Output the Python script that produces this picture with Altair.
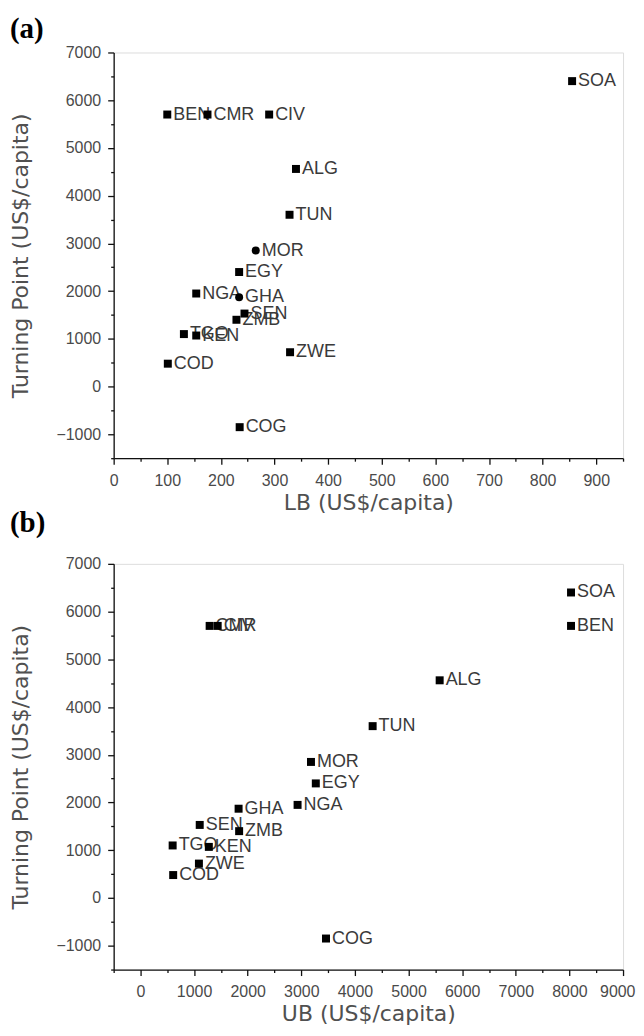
import altair as alt
import pandas as pd

countries = ["SOA", "BEN", "CMR", "CIV", "ALG", "TUN", "MOR", "EGY", "NGA",
             "GHA", "SEN", "ZMB", "TGO", "KEN", "COD", "ZWE", "COG"]
turning_point = [6400, 5700, 5700, 5700, 4560, 3600, 2850, 2400, 1950,
                 1870, 1530, 1400, 1100, 1070, 480, 720, -850]
lb = [855, 100, 175, 290, 340, 328, 265, 234, 154,
      234, 244, 229, 131, 154, 101, 329, 235]
ub = [8030, 8030, 1290, 1440, 5580, 4330, 3180, 3270, 2930,
      1830, 1105, 1840, 600, 1275, 610, 1090, 3460]
marker_a = ["square", "square", "square", "square", "square", "square", "circle", "square", "square",
            "circle", "square", "square", "square", "square", "square", "square", "square"]
marker_b = ["square"] * len(countries)

y_ticks = list(range(-1500, 7001, 500))
lb_ticks = list(range(0, 951, 50))
ub_ticks = list(range(-500, 9001, 500))

df = pd.DataFrame({"country": countries, "tp": turning_point, "lb": lb, "ub": ub,
                   "ma": marker_a, "mb": marker_b})

FONT = "Liberation Sans"
TITLE_FONT = "DejaVu Sans"


def make_axis(vals, major, title_pad, label_pad, flush=False):
    return alt.Axis(
        values=vals,
        format="d",
        labelExpr=f"datum.value % {major} === 0 ? datum.label : ''",
        tickSize={"condition": {"test": f"datum.value % {major} !== 0", "value": 3}, "value": 6},
        grid=False,
        domainColor="#111",
        tickColor="#111",
        domainWidth=1.3,
        tickWidth=1.3,
        labelFont=FONT,
        labelFontSize=16,
        labelColor="#4a4a4a",
        labelOverlap=False,
        labelFlush=1 if flush else False,
        labelFlushOffset=12 if flush else 0,
        labelPadding=label_pad,
        titleFont=TITLE_FONT,
        titleFontSize=22,
        titleFontWeight="normal",
        titleColor="#505050",
        titlePadding=title_pad,
    )


def panel(xfield, xdomain, xvals, xmajor, xtitle, shapefield, tag, flush, toff):
    x = alt.X(f"{xfield}:Q",
              scale=alt.Scale(domain=xdomain, nice=False, zero=False),
              axis=make_axis(xvals, xmajor, 4, 8, flush), title=xtitle)
    y = alt.Y("tp:Q",
              scale=alt.Scale(domain=[-1500, 7000], nice=False, zero=False),
              axis=make_axis(y_ticks, 1000, 24, 7), title="Turning Point (US$/capita)")
    base = alt.Chart(df)
    txt = base.mark_text(align="left", baseline="middle", dx=6, font=FONT,
                         fontSize=18, color="#3a3a3a").encode(x=x, y=y, text="country:N")
    pts = base.mark_point(filled=True, opacity=1, color="black", size=64).encode(
        x=x, y=y,
        shape=alt.Shape(f"{shapefield}:N",
                        scale=alt.Scale(domain=["square", "circle"], range=["square", "circle"]),
                        legend=None),
    )
    return alt.layer(txt, pts).properties(
        width=511, height=407,
        title=alt.TitleParams(text=tag, anchor="start", frame="group", dx=-104, offset=toff,
                              font="Liberation Serif", fontSize=29, fontWeight="bold",
                              color="black"),
    )


a = panel("lb", [0, 950], lb_ticks, 100, "LB (US$/capita)", "ma", "(a)", False, 1)
b = panel("ub", [-500, 9000], ub_ticks, 1000, "UB (US$/capita)", "mb", "(b)", True, 18)

chart = alt.vconcat(a, b, spacing=106, bounds="flush",
                    padding={"top": 4, "left": 0, "right": 0, "bottom": 0}).configure_view(
    stroke=None).configure(background="white")

chart.save("out.html", embed_options={"renderer": "svg", "actions": False})
